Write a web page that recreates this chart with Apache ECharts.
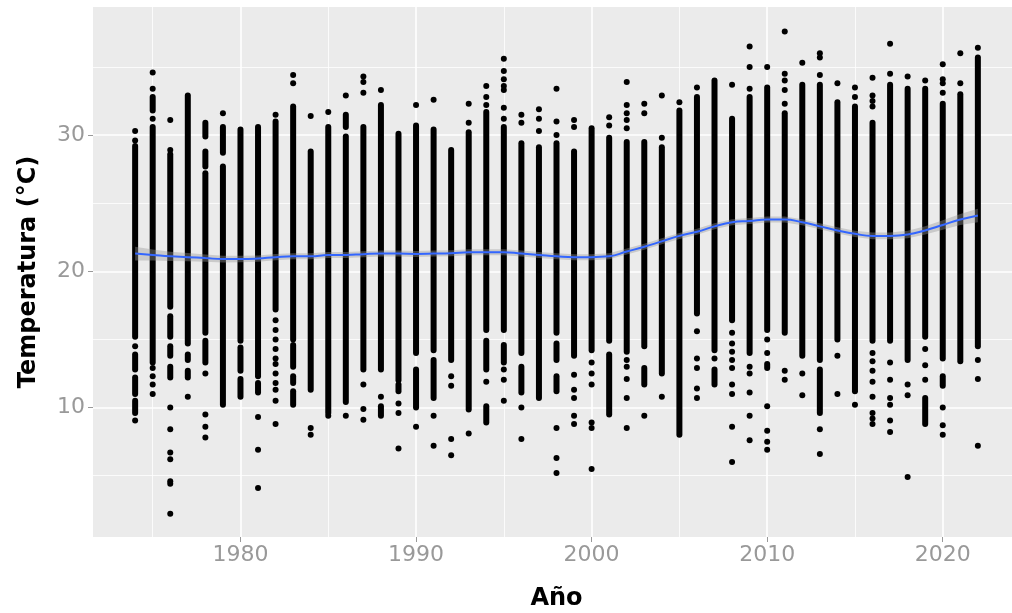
<!DOCTYPE html>
<html>
<head>
<meta charset="utf-8">
<script src="https://cdn.jsdelivr.net/npm/echarts@6/dist/echarts.min.js"></script>
<style>
  html, body { margin: 0; padding: 0; background: #fff; }
  #chart { width: 1012px; height: 613px; }
</style>
</head>
<body>
<div id="chart"></div>
<script>
// yearly strips: runs of densely packed points [year, low, high]
var denseRuns = [
  [1974,15.2,29.2],[1974,12.8,13.9],[1974,11.0,12.2],[1974,9.6,10.5],
  [1975,13.3,30.6],[1975,31.8,32.8],
  [1976,17.4,28.6],[1976,15.2,16.7],[1976,13.8,14.5],[1976,12.2,13.0],
  [1977,14.7,32.9],[1977,13.5,13.9],[1977,12.2,12.7],
  [1978,15.5,27.2],[1978,27.7,28.8],[1978,29.9,30.9],[1978,13.3,14.9],
  [1979,10.2,27.7],[1979,28.7,30.6],
  [1980,14.9,30.4],[1980,12.7,14.4],[1980,10.8,12.1],
  [1981,12.3,30.6],[1981,11.1,11.8],
  [1982,17.2,31.0],
  [1983,15.0,32.1],[1983,13.0,14.6],[1983,11.8,12.3],[1983,10.2,11.2],
  [1984,11.3,28.8],
  [1985,9.6,30.6],
  [1986,10.4,29.9],[1986,30.6,31.5],
  [1987,12.8,30.6],
  [1988,12.8,32.2],[1988,9.4,10.1],
  [1989,12.0,30.1],[1989,11.2,11.7],
  [1990,14.0,30.7],[1990,10.0,12.8],
  [1991,14.2,30.4],[1991,10.7,13.5],
  [1992,13.5,28.9],
  [1993,9.85,30.2],
  [1994,15.7,31.7],[1994,12.8,14.9],[1994,8.9,10.1],
  [1995,15.7,30.6],[1995,13.3,14.6],
  [1996,14.0,29.4],[1996,11.1,13.0],
  [1997,10.7,29.1],
  [1998,15.5,29.4],[1998,13.5,14.7],[1998,11.2,12.3],
  [1999,13.8,28.8],
  [2000,14.2,30.5],
  [2001,14.9,29.8],[2001,9.5,13.9],
  [2002,14.1,29.5],
  [2003,14.5,29.5],[2003,11.7,12.9],
  [2004,12.5,29.1],
  [2005,8.0,31.8],
  [2006,16.9,32.8],
  [2007,14.2,34.0],[2007,11.7,12.8],
  [2008,16.4,31.2],
  [2009,14.0,32.8],
  [2010,15.7,33.5],[2010,12.9,13.2],
  [2011,15.5,31.6],
  [2012,13.8,33.7],
  [2013,13.5,33.7],[2013,9.6,12.8],
  [2014,15.0,32.4],
  [2015,11.2,32.1],
  [2016,14.9,30.9],
  [2017,14.9,33.7],
  [2018,13.5,33.4],
  [2019,15.2,33.4],[2019,8.8,10.7],
  [2020,13.6,32.3],[2020,11.6,12.3],
  [2021,13.4,33.0],
  [2022,14.5,35.7]
];

// isolated points [year, temperature]
var singlePoints = [
  [1974,30.3],[1974,29.6],[1974,14.5],[1974,9.05],
  [1975,34.6],[1975,33.4],[1975,31.2],[1975,12.9],[1975,12.3],[1975,11.7],[1975,11.0],
  [1976,31.1],[1976,28.9],[1976,10.0],[1976,8.4],[1976,6.7],[1976,6.2],[1976,4.6],[1976,4.4],[1976,2.2],
  [1977,10.8],
  [1978,12.5],[1978,9.5],[1978,8.6],[1978,7.8],
  [1979,31.6],
  [1981,9.3],[1981,6.9],[1981,4.1],
  [1982,31.5],[1982,16.4],[1982,15.7],[1982,15.0],[1982,14.3],[1982,13.6],[1982,13.2],[1982,12.5],[1982,11.8],[1982,11.3],[1982,10.5],[1982,8.8],
  [1983,34.4],[1983,33.8],
  [1984,31.4],[1984,8.5],[1984,8.0],
  [1985,31.7],[1985,9.4],
  [1986,32.9],[1986,9.4],
  [1987,34.3],[1987,33.9],[1987,33.1],[1987,11.7],[1987,9.9],[1987,9.1],
  [1988,33.3],[1988,10.8],
  [1989,10.3],[1989,9.6],[1989,7.0],
  [1990,32.2],[1990,8.6],
  [1991,32.6],[1991,9.4],[1991,7.2],
  [1992,12.3],[1992,11.6],[1992,7.7],[1992,6.5],
  [1993,32.3],[1993,30.9],[1993,8.1],
  [1994,33.6],[1994,32.8],[1994,32.2],[1994,11.9],
  [1995,35.6],[1995,34.7],[1995,34.1],[1995,33.6],[1995,33.3],[1995,32.0],[1995,31.2],[1995,12.8],[1995,12.05],[1995,10.5],
  [1996,31.5],[1996,30.9],[1996,10.0],[1996,7.7],
  [1997,31.9],[1997,31.2],[1997,30.3],
  [1998,33.4],[1998,31.0],[1998,30.0],[1998,8.5],[1998,6.3],[1998,5.2],
  [1999,31.1],[1999,30.6],[1999,12.4],[1999,11.3],[1999,10.7],[1999,9.4],[1999,8.8],
  [2000,13.3],[2000,12.5],[2000,11.7],[2000,8.9],[2000,8.5],[2000,5.5],
  [2001,31.3],[2001,30.7],
  [2002,33.9],[2002,32.2],[2002,31.6],[2002,31.1],[2002,30.5],[2002,13.5],[2002,13.0],[2002,12.1],[2002,10.7],[2002,8.5],
  [2003,32.3],[2003,31.6],[2003,9.4],
  [2004,32.9],[2004,29.8],[2004,10.8],
  [2005,32.4],
  [2006,33.5],[2006,15.6],[2006,13.6],[2006,12.9],[2006,11.4],[2006,10.7],
  [2007,13.6],
  [2008,33.7],[2008,15.5],[2008,14.7],[2008,14.1],[2008,13.5],[2008,12.9],[2008,11.7],[2008,11.0],[2008,8.6],[2008,6.0],
  [2009,36.5],[2009,35.0],[2009,33.4],[2009,13.0],[2009,12.5],[2009,11.1],[2009,9.4],[2009,7.6],
  [2010,35.0],[2010,15.0],[2010,14.0],[2010,10.1],[2010,8.3],[2010,7.5],[2010,6.9],
  [2011,37.6],[2011,34.5],[2011,34.0],[2011,33.3],[2011,32.3],[2011,12.7],[2011,12.05],
  [2012,35.3],[2012,12.5],[2012,10.9],
  [2013,36.0],[2013,35.7],[2013,34.4],[2013,8.4],[2013,6.6],
  [2014,33.8],[2014,13.8],[2014,11.0],
  [2015,33.5],[2015,32.8],[2015,10.2],
  [2016,34.2],[2016,32.9],[2016,32.5],[2016,32.1],[2016,14.0],[2016,13.4],[2016,12.7],[2016,11.9],[2016,10.8],[2016,9.6],[2016,9.2],[2016,8.8],
  [2017,36.7],[2017,34.5],[2017,13.3],[2017,12.05],[2017,10.7],[2017,10.2],[2017,9.05],[2017,8.2],
  [2018,34.3],[2018,11.7],[2018,10.9],[2018,4.9],
  [2019,34.0],[2019,14.3],[2019,13.1],[2019,12.05],
  [2020,35.2],[2020,34.1],[2020,33.8],[2020,33.1],[2020,10.0],[2020,8.7],[2020,8.0],
  [2021,36.0],[2021,33.8],
  [2022,36.4],[2022,13.5],[2022,12.1],[2022,7.2]
];

var years = [1974,1975,1976,1977,1978,1979,1980,1981,1982,1983,1984,1985,1986,1987,1988,1989,
  1990,1991,1992,1993,1994,1995,1996,1997,1998,1999,2000,2001,2002,2003,2004,2005,2006,2007,
  2008,2009,2010,2011,2012,2013,2014,2015,2016,2017,2018,2019,2020,2021,2022];

// smooth trend and half-width of its confidence band, read per year
var trend = [21.3,21.2,21.1,21.04,20.97,20.9,20.9,20.94,21.04,21.1,21.1,21.2,21.2,21.26,21.3,21.3,
  21.28,21.3,21.33,21.4,21.4,21.4,21.3,21.2,21.1,21.04,21.04,21.1,21.45,21.8,22.2,22.6,22.9,23.3,
  23.6,23.7,23.8,23.8,23.6,23.3,23.0,22.75,22.6,22.6,22.7,23.0,23.4,23.8,24.1];
var bandHalf = [0.5,0.4,0.34,0.3,0.27,0.25,0.24,0.23,0.23,0.22,0.22,0.22,0.22,0.22,0.22,0.22,
  0.22,0.22,0.22,0.22,0.22,0.22,0.22,0.22,0.22,0.22,0.22,0.22,0.22,0.22,0.22,0.22,0.22,0.22,
  0.22,0.22,0.22,0.22,0.22,0.22,0.23,0.23,0.24,0.25,0.27,0.3,0.34,0.4,0.5];

var xMajor = [1980, 1990, 2000, 2010, 2020];
var xMinor = [1975, 1985, 1995, 2005, 2015];
var yMajor = [10, 20, 30];
var yMinor = [5, 15, 25, 35];

var tickText = { color: '#999999', fontSize: 22, fontFamily: 'DejaVu Sans' };
var titleText = { color: '#000', fontSize: 24, fontWeight: 'bold', fontFamily: 'DejaVu Sans' };

var bandData = years.map(function (y, i) { return [y, trend[i] - bandHalf[i], trend[i] + bandHalf[i]]; });
var trendData = years.map(function (y, i) { return [y, trend[i]]; });

function minorAxis(values, min, max, pos) {
  return {
    type: 'value', min: min, max: max, position: pos,
    axisLine: { show: false },
    axisTick: { show: false, customValues: values },
    axisLabel: { show: false, customValues: values },
    splitLine: { show: true, lineStyle: { color: '#fff', width: 0.8 } }
  };
}

var chart = echarts.init(document.getElementById('chart'));
chart.setOption({
  animation: false,
  grid: {
    left: 93, top: 7, width: 927, bottom: 76,
    outerBoundsMode: 'none', containLabel: false,
    show: true, backgroundColor: '#EBEBEB', borderWidth: 0
  },
  xAxis: [
    minorAxis(xMinor, 1971.6, 2024.4, 'top'),
    {
      type: 'value', min: 1971.6, max: 2024.4, position: 'bottom',
      axisLine: { show: false },
      axisTick: { show: true, length: 5, lineStyle: { color: '#999', width: 1 }, customValues: xMajor },
      axisLabel: Object.assign({ customValues: xMajor, margin: 7, formatter: function (v) { return String(v); } }, tickText),
      splitLine: { show: true, lineStyle: { color: '#fff', width: 1.6 } },
      name: 'Año', nameLocation: 'middle', nameGap: 50, nameTextStyle: titleText
    }
  ],
  yAxis: [
    minorAxis(yMinor, 0.5, 39.4, 'right'),
    {
      type: 'value', min: 0.5, max: 39.4, position: 'left',
      axisLine: { show: false },
      axisTick: { show: true, length: 5, lineStyle: { color: '#999', width: 1 }, customValues: yMajor },
      axisLabel: Object.assign({ customValues: yMajor, margin: 8 }, tickText),
      splitLine: { show: true, lineStyle: { color: '#fff', width: 1.6 } },
      name: 'Temperatura (°C)', nameLocation: 'middle', nameGap: 52, nameTextStyle: titleText
    }
  ],
  series: [
    {
      type: 'custom', xAxisIndex: 1, yAxisIndex: 1,
      data: denseRuns,
      encode: { x: 0, y: [1, 2] },
      renderItem: function (params, api) {
        var hi = api.coord([api.value(0), api.value(2)]);
        var lo = api.coord([api.value(0), api.value(1)]);
        return {
          type: 'rect',
          shape: { x: hi[0] - 3, y: hi[1] - 3, width: 6, height: lo[1] - hi[1] + 6, r: 3 },
          style: { fill: '#000' }
        };
      }
    },
    {
      type: 'scatter', xAxisIndex: 1, yAxisIndex: 1,
      data: singlePoints, symbolSize: 6,
      itemStyle: { color: '#000', opacity: 1 }
    },
    {
      type: 'custom', xAxisIndex: 1, yAxisIndex: 1, silent: true,
      data: bandData,
      encode: { x: 0, y: [1, 2] },
      renderItem: function (params, api) {
        if (params.dataIndex !== 0) return null;
        var upper = bandData.map(function (d) { return api.coord([d[0], d[2]]); });
        var lower = bandData.map(function (d) { return api.coord([d[0], d[1]]); }).reverse();
        return {
          type: 'polygon',
          shape: { points: upper.concat(lower) },
          style: { fill: 'rgba(153,153,153,0.4)' }
        };
      }
    },
    {
      type: 'line', xAxisIndex: 1, yAxisIndex: 1,
      data: trendData, smooth: true, showSymbol: false, symbol: 'none',
      lineStyle: { color: '#3366FF', width: 2 }
    }
  ]
});
</script>
</body>
</html>
